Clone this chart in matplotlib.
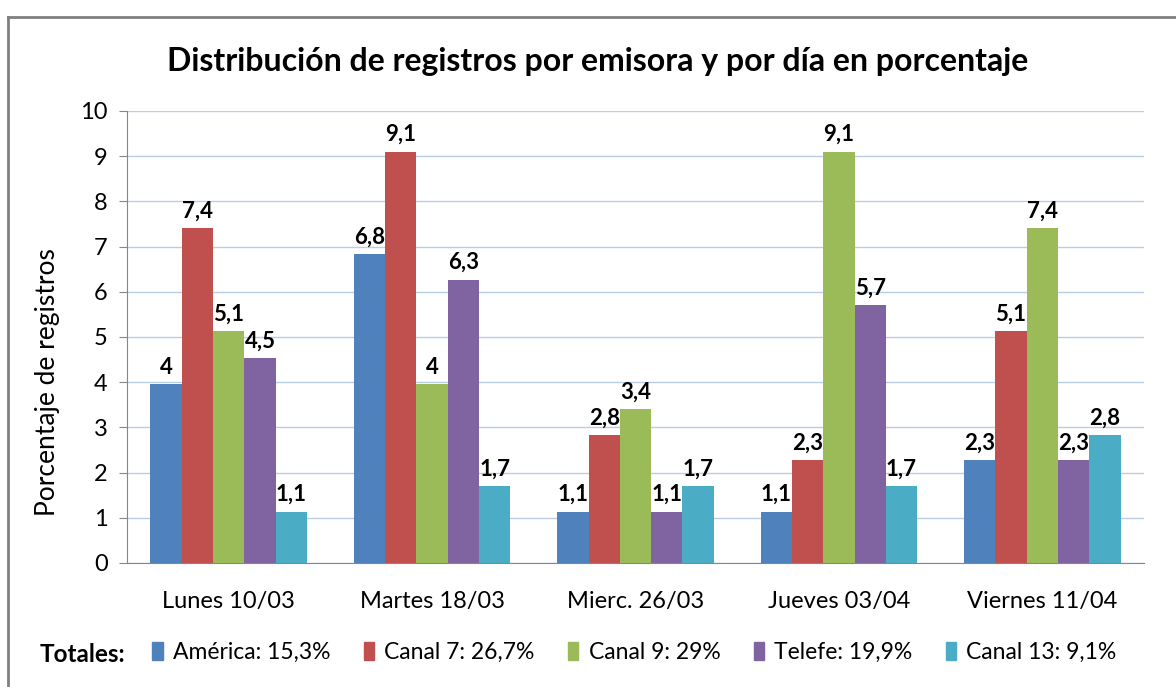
import numpy as np
import matplotlib.pyplot as plt
from matplotlib.patches import Patch
from matplotlib.lines import Line2D

# datos
dias = ["Lunes 10/03", "Martes 18/03", "Mierc. 26/03", "Jueves 03/04", "Viernes 11/04"]
emisoras = ["América: 15,3%", "Canal 7: 26,7%", "Canal 9: 29%", "Telefe: 19,9%", "Canal 13: 9,1%"]
america = [3.95, 6.83, 1.13, 1.13, 2.27]
canal7 = [7.4, 9.1, 2.83, 2.27, 5.13]
canal9 = [5.13, 3.95, 3.4, 9.1, 7.4]
telefe = [4.53, 6.27, 1.13, 5.7, 2.27]
canal13 = [1.13, 1.7, 1.7, 1.7, 2.83]
etiquetas = [
    ["4", "6,8", "1,1", "1,1", "2,3"],
    ["7,4", "9,1", "2,8", "2,3", "5,1"],
    ["5,1", "4", "3,4", "9,1", "7,4"],
    ["4,5", "6,3", "1,1", "5,7", "2,3"],
    ["1,1", "1,7", "1,7", "1,7", "2,8"],
]
colores = ["#4F81BD", "#C0504D", "#9BBB59", "#8064A2", "#4BACC6"]

plt.rcParams['font.family'] = ['Lato', 'DejaVu Sans']

fig = plt.figure(figsize=(11.76, 6.87), dpi=100)
ax = fig.add_axes([0.108, 0.1805, 0.8648, 0.658])

series = [america, canal7, canal9, telefe, canal13]
x = np.arange(len(dias))
w = 1 / 6.5
for i, (vals, col) in enumerate(zip(series, colores)):
    pos = x + (i - 2) * w
    ax.bar(pos, vals, width=w, color=col, zorder=3)
    for p, v, lab in zip(pos, vals, etiquetas[i]):
        ax.text(p, v + 0.15, lab, ha="center", va="bottom", fontsize=16,
                fontweight="bold", zorder=4)

ax.set_xlim(-0.5, len(dias) - 0.5)
ax.set_ylim(0, 10)
ax.set_yticks(range(0, 11))
ax.set_xticks(x)
ax.set_xticklabels(dias, fontsize=17)
ax.tick_params(axis="x", length=0, pad=20)
ax.tick_params(axis="y", labelsize=17, length=6, color="#868686", direction="out", pad=8)
ax.grid(axis="y", color="#B9CDE5", linewidth=1, zorder=0)
for s in ["top", "right"]:
    ax.spines[s].set_visible(False)
ax.spines["left"].set_color("#868686")
ax.spines["bottom"].set_color("#868686")
ax.set_ylabel("Porcentaje de registros", fontsize=19)
ax.yaxis.set_label_coords(-0.066, 0.40)

fig.text(0.508, 0.91, "Distribución de registros por emisora y por día en porcentaje",
         ha="center", va="center", fontsize=23, fontweight="bold")

# leyenda
fig.text(0.034, 0.048, "Totales:", fontsize=17.5, fontweight="bold", va="center")
handles = [Patch(color=c) for c in colores]
fig.legend(handles, emisoras, loc="center left", bbox_to_anchor=(0.112, 0.05), ncol=5,
           frameon=False, fontsize=16.5, handlelength=0.45, handleheight=0.8,
           handletextpad=0.45, columnspacing=1.45)

# marco
fig.add_artist(Line2D([0.007, 1.0], [0.975, 0.975], color="#808080", linewidth=2))
fig.add_artist(Line2D([0.007, 0.007], [0.0, 0.975], color="#808080", linewidth=2))

fig.savefig("out.png", dpi=100)
